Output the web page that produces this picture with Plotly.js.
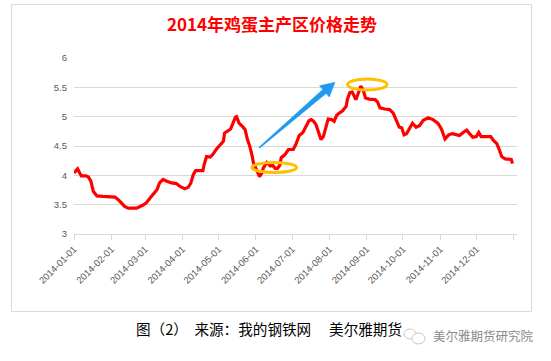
<!DOCTYPE html>
<html>
<head>
<meta charset="utf-8">
<script src="https://cdn.plot.ly/plotly-3.0.1.min.js"></script>
<style>html,body{margin:0;padding:0;background:#fff;}#chart{width:551px;height:361px;}</style>
</head>
<body>
<div id="chart"></div>
<script>
// ---- data ----
const dates = [
 "2014-01-01","2014-01-04","2014-01-07","2014-01-11","2014-01-13","2014-01-15","2014-01-17","2014-01-20","2014-01-25",
 "2014-02-04","2014-02-07","2014-02-09","2014-02-12","2014-02-15","2014-02-22","2014-02-27",
 "2014-03-02","2014-03-05","2014-03-08","2014-03-11","2014-03-13","2014-03-16","2014-03-19","2014-03-23","2014-03-27","2014-03-30",
 "2014-04-03","2014-04-06","2014-04-08","2014-04-10","2014-04-12","2014-04-15","2014-04-18","2014-04-19","2014-04-21","2014-04-24","2014-04-26","2014-04-29",
 "2014-05-02","2014-05-05","2014-05-06","2014-05-09","2014-05-11","2014-05-13","2014-05-15","2014-05-16","2014-05-18","2014-05-21","2014-05-23","2014-05-25","2014-05-27","2014-05-29","2014-05-30",
 "2014-06-01","2014-06-04","2014-06-06","2014-06-07","2014-06-10","2014-06-13","2014-06-15","2014-06-17","2014-06-19","2014-06-21","2014-06-22","2014-06-25","2014-06-28",
 "2014-07-02","2014-07-04","2014-07-07","2014-07-10","2014-07-12","2014-07-15","2014-07-17","2014-07-19","2014-07-21","2014-07-23","2014-07-25","2014-07-27","2014-07-30","2014-07-31",
 "2014-08-03","2014-08-05","2014-08-07","2014-08-09","2014-08-12","2014-08-15","2014-08-16","2014-08-18","2014-08-20","2014-08-23","2014-08-25","2014-08-27","2014-08-29","2014-08-31",
 "2014-09-03","2014-09-08","2014-09-10","2014-09-12","2014-09-16","2014-09-20","2014-09-23","2014-09-26","2014-09-28","2014-09-30",
 "2014-10-02","2014-10-04","2014-10-07","2014-10-09","2014-10-12","2014-10-15","2014-10-18","2014-10-22","2014-10-26","2014-10-30",
 "2014-11-02","2014-11-05","2014-11-08","2014-11-11","2014-11-15","2014-11-17","2014-11-20","2014-11-23","2014-11-25","2014-11-28",
 "2014-12-01","2014-12-03","2014-12-05","2014-12-09","2014-12-13","2014-12-15","2014-12-18","2014-12-20","2014-12-22","2014-12-25","2014-12-29","2014-12-30","2014-12-31"
];
const prices = [
 4.04,4.11,3.99,3.99,3.97,3.90,3.73,3.65,3.64,
 3.63,3.58,3.54,3.47,3.44,3.44,3.49,
 3.53,3.61,3.69,3.76,3.87,3.93,3.90,3.87,3.86,3.81,
 3.77,3.80,3.87,4.01,4.08,4.08,4.08,4.18,4.32,4.31,4.35,4.44,
 4.52,4.58,4.72,4.77,4.79,4.89,4.99,5.00,4.89,4.83,4.78,4.61,4.49,4.32,4.21,
 4.12,3.98,4.04,4.12,4.22,4.16,4.17,4.12,4.12,4.18,4.30,4.35,4.44,
 4.44,4.52,4.68,4.73,4.82,4.93,4.95,4.92,4.86,4.75,4.61,4.66,4.86,4.96,
 4.95,4.92,5.02,5.06,5.10,5.18,5.30,5.41,5.42,5.29,5.40,5.52,5.46,5.32,
 5.30,5.29,5.25,5.15,5.13,5.12,5.06,4.92,4.82,4.81,
 4.69,4.71,4.82,4.89,4.82,4.85,4.94,4.98,4.95,4.89,
 4.79,4.62,4.69,4.71,4.69,4.68,4.73,4.77,4.72,4.65,
 4.66,4.73,4.66,4.66,4.66,4.60,4.54,4.44,4.32,4.28,4.28,4.27,4.20
];
const tickDates = ["2014-01-01","2014-02-01","2014-03-01","2014-04-01","2014-05-01","2014-06-01","2014-07-01","2014-08-01","2014-09-01","2014-10-01","2014-11-01","2014-12-01","2015-01-01"];
const tickLabels = ["2014-01-01","2014-02-01","2014-03-01","2014-04-01","2014-05-01","2014-06-01","2014-07-01","2014-08-01","2014-09-01","2014-10-01","2014-11-01","2014-12-01",""];
const chartTitle = "2014年鸡蛋主产区价格走势";
const caption = "图（2）  来源：我的钢铁网　 美尔雅期货";
const watermark = "美尔雅期货研究院";

// ---- layout helpers (pixel -> paper) ----
const W = 551, H = 361;
const M = {l: 74, r: 34, t: 58, b: 127};
const PW = W - M.l - M.r, PH = H - M.t - M.b;
const px = x => (x - M.l) / PW;
const py = y => (H - M.b - y) / PH;

function arrowPath() {
  const tail = [259.3, 147.7], tip = [335, 82.3];
  const dx = tip[0] - tail[0], dy = tip[1] - tail[1];
  const L = Math.hypot(dx, dy);
  const u = [dx / L, dy / L], n = [-u[1], u[0]];
  const headLen = 14, headHalf = 7.5, shaftHalf = 2.6, tailHalf = 0.6;
  const b = [tip[0] - u[0] * headLen, tip[1] - u[1] * headLen];
  const P = [
    [tail[0] + n[0] * tailHalf, tail[1] + n[1] * tailHalf],
    [b[0] + n[0] * shaftHalf, b[1] + n[1] * shaftHalf],
    [b[0] + n[0] * headHalf, b[1] + n[1] * headHalf],
    tip,
    [b[0] - n[0] * headHalf, b[1] - n[1] * headHalf],
    [b[0] - n[0] * shaftHalf, b[1] - n[1] * shaftHalf],
    [tail[0] - n[0] * tailHalf, tail[1] - n[1] * tailHalf]
  ];
  return P.map((p, i) => (i ? 'L' : 'M') + px(p[0]).toFixed(4) + ',' + py(p[1]).toFixed(4)).join(' ') + ' Z';
}

const trace = {
  x: dates, y: prices, type: 'scatter', mode: 'lines',
  line: {color: '#ff0000', width: 3.2}, hoverinfo: 'skip'
};

const tickFont = {family: 'Liberation Sans, Arial, sans-serif', size: 9.5, color: '#595959'};

const layout = {
  width: W, height: H,
  margin: M,
  paper_bgcolor: '#ffffff', plot_bgcolor: '#ffffff',
  showlegend: false,
  title: {
    text: '<b>' + chartTitle + '</b>',
    font: {family: 'Noto Sans CJK SC, sans-serif', size: 17, color: '#ff0000'},
    x: 272 / W, xref: 'container', xanchor: 'center',
    y: 1 - 25 / H, yref: 'container', yanchor: 'middle'
  },
  xaxis: {
    type: 'date',
    range: ['2014-01-01', '2015-01-03 18:00'],
    tickvals: tickDates, ticktext: tickLabels,
    tickangle: -45,
    tickfont: tickFont,
    showgrid: false, zeroline: false,
    showline: true, linecolor: '#d9d9d9', linewidth: 1,
    ticks: 'outside', ticklen: 5, tickcolor: '#d9d9d9', tickwidth: 1
  },
  yaxis: {
    range: [3, 6], dtick: 0.5, tick0: 3,
    tickfont: tickFont,
    showgrid: true, gridcolor: '#d9d9d9', gridwidth: 1,
    zeroline: false, showline: false,
    ticks: '', ticklabelstandoff: 6
  },
  shapes: [
    {type: 'rect', xref: 'paper', yref: 'paper', x0: px(11.5), x1: px(531.5), y0: py(311.5), y1: py(4.5),
     line: {color: '#d9d9d9', width: 1}, fillcolor: 'rgba(0,0,0,0)', layer: 'below'},
    {type: 'circle', xref: 'paper', yref: 'paper', x0: px(252), x1: px(296.5), y0: py(172.5), y1: py(162.5),
     line: {color: '#ffc000', width: 3}},
    {type: 'circle', xref: 'paper', yref: 'paper', x0: px(347.5), x1: px(387), y0: py(90), y1: py(79),
     line: {color: '#ffc000', width: 3}},
    {type: 'path', xref: 'paper', yref: 'paper', path: arrowPath(),
     fillcolor: '#1e9bf0', line: {color: '#1e9bf0', width: 0.5}},
    {type: 'circle', xref: 'paper', yref: 'paper', x0: px(404), x1: px(416), y0: py(339), y1: py(329),
     line: {color: '#c8c8c8', width: 1}},
    {type: 'circle', xref: 'paper', yref: 'paper', x0: px(412), x1: px(425), y0: py(344), y1: py(333),
     line: {color: '#c8c8c8', width: 1}, fillcolor: 'rgba(255,255,255,0.85)'}
  ],
  annotations: [
    {xref: 'paper', yref: 'paper', x: px(134), y: py(328), xanchor: 'left', yanchor: 'middle',
     text: caption, showarrow: false,
     font: {family: 'Noto Sans CJK SC, sans-serif', size: 14.6, color: '#000000'}},
    {xref: 'paper', yref: 'paper', x: px(431), y: py(335), xanchor: 'left', yanchor: 'middle',
     text: watermark, showarrow: false,
     font: {family: 'Noto Sans CJK SC, sans-serif', size: 12.5, color: '#8a8a8a'}}
  ]
};

Plotly.newPlot('chart', [trace], layout, {displayModeBar: false, staticPlot: true});
</script>
</body>
</html>
